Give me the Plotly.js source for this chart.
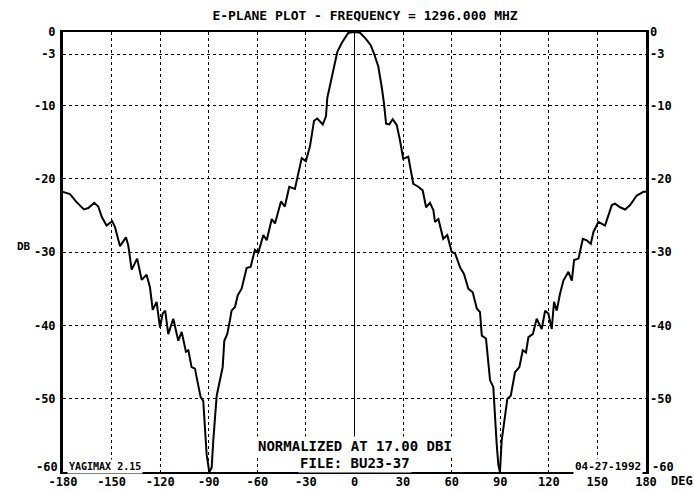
<!DOCTYPE html>
<html>
<head>
<meta charset="utf-8">
<script src="https://cdn.plot.ly/plotly-3.0.1.min.js"></script>
<style>html,body{margin:0;padding:0;background:#fff;}#chart{width:694px;height:491px;}</style>
</head>
<body>
<div id="chart"></div>
<script>
const angleDeg = [
  -180, -175.7, -171.6, -167.1, -164.4, -160.7, -158.2, -156.1, -153.1, -149.6,
  -147.9, -144.8, -141.1, -139.7, -137.6, -134.2, -131.4, -128.4, -126.3, -124.6,
  -122.2, -120.1, -118.5, -116.9, -115.0, -111.9, -108.8, -106.7, -104.1, -102.6,
  -100.6, -98.5, -97.1, -95.0, -93.4, -92.3, -91.3, -89.7, -88.2, -87.2,
  -86.2, -85.1, -83.1, -81.4, -80.4, -78.6, -76.9, -75.9, -73.8, -72.1,
  -69.7, -66.6, -64.1, -61.5, -59.4, -56.3, -54.2, -51.1, -49.1, -45.4,
  -43.0, -40.3, -36.8, -34.7, -32.6, -30.0, -27.5, -25.0, -23.0, -19.6,
  -17.6, -16.8, -14.7, -12.0, -10.6, -7.9, -5.2, -3.8, 0, 3.4,
  6.9, 10.0, 12.0, 14.7, 16.8, 18.2, 19.5, 21.5, 23.6, 26.1,
  28.1, 30.1, 33.2, 36.3, 39.4, 42.1, 44.2, 46.6, 48.7, 49.7,
  51.8, 54.8, 57.3, 60.0, 62.1, 65.2, 67.6, 70.3, 73.0, 75.5,
  77.5, 78.6, 81.2, 83.7, 85.7, 86.8, 87.8, 88.8, 89.8, 90.9,
  93.0, 94.4, 96.5, 99.1, 101.8, 103.9, 105.9, 107.4, 110.1, 112.5,
  115.6, 117.7, 119.7, 121.8, 123.2, 124.9, 126.9, 129.0, 132.1, 134.2,
  135.6, 138.3, 141.0, 143.4, 145.9, 147.5, 150.6, 154.7, 158.9, 160.9,
  164.0, 167.1, 170.2, 174.3, 178.4, 180
];
const gainDb = [
  -21.8, -22.1, -23.2, -24.2, -24.0, -23.3, -23.8, -25.2, -26.4, -25.8,
  -26.6, -29.2, -28.0, -29.1, -32.4, -30.9, -33.8, -33.1, -34.8, -37.9,
  -36.8, -40.3, -38.4, -38.0, -41.2, -39.1, -42.1, -40.9, -43.6, -43.4,
  -45.7, -45.9, -47.5, -49.8, -50.3, -54.4, -57.6, -60.0, -59.4, -55.7,
  -52.1, -49.6, -47.5, -45.7, -42.1, -41.2, -39.3, -38.0, -37.5, -35.9,
  -35.0, -32.2, -32.0, -29.7, -30.1, -27.7, -28.4, -25.5, -26.1, -23.1,
  -23.8, -21.1, -21.4, -19.5, -17.2, -17.6, -15.6, -12.1, -11.8, -12.6,
  -11.5, -9.0, -6.7, -4.0, -2.7, -1.5, -0.6, -0.1, 0, -0.1,
  -0.9, -1.8, -2.9, -4.7, -7.5, -9.7, -12.5, -12.6, -11.9, -12.7,
  -14.8, -17.3, -17.0, -20.7, -21.1, -21.6, -23.9, -23.3, -24.3, -25.9,
  -25.5, -28.2, -27.7, -30.0, -30.2, -32.1, -33.0, -35.0, -35.5, -37.7,
  -38.2, -41.4, -41.8, -47.5, -48.4, -53.0, -56.2, -59.0, -60.0, -55.7,
  -52.1, -50.0, -49.6, -46.4, -45.7, -43.4, -43.7, -41.6, -41.2, -39.1,
  -40.5, -38.0, -38.4, -40.5, -36.8, -38.0, -35.7, -33.9, -32.7, -33.9,
  -31.1, -30.9, -28.2, -28.4, -28.9, -27.3, -25.9, -26.4, -23.6, -23.4,
  -23.9, -24.2, -23.6, -22.3, -21.8, -21.8
];
const xTicks = [-180, -150, -120, -90, -60, -30, 0, 30, 60, 90, 120, 150, 180];
const yTicks = [0, -3, -10, -20, -30, -40, -50, -60];
const yTickText = ['0', '-3', '-10', '-20', '-30', '-40', '-50', '-60'];

const FONT = 'DejaVu Sans Mono, Liberation Mono, monospace';

// the bottom (-60) label sits raised above the x labels, as in the reference
const yAxisText = yTickText.map((t, i) => (yTicks[i] === -60 ? '' : t));
const bottomLabel = yTickText[yTicks.indexOf(-60)];

const traces = [
  {x: angleDeg, y: gainDb, type: 'scatter', mode: 'lines',
   line: {color: '#000', width: 2}, hoverinfo: 'skip', showlegend: false},
  {x: angleDeg, y: gainDb, type: 'scatter', mode: 'lines', yaxis: 'y2',
   line: {color: 'rgba(0,0,0,0)', width: 0}, hoverinfo: 'skip', showlegend: false}
];

const axisFont = {family: FONT, size: 12, color: '#000', weight: 'bold'};

const layout = {
  width: 694, height: 491,
  margin: {l: 63, r: 48, t: 32, b: 19},
  paper_bgcolor: '#fff', plot_bgcolor: '#fff',
  showlegend: false,
  title: {text: 'E-PLANE PLOT - FREQUENCY = 1296.000 MHZ',
          font: {family: FONT, size: 13, color: '#000', weight: 'bold'},
          xref: 'container', x: 365/694, xanchor: 'center',
          yref: 'container', y: 1 - 15/491, yanchor: 'middle'},
  xaxis: {range: [-180, 180], tickvals: xTicks, ticktext: xTicks.map(String),
          showgrid: true, gridcolor: '#000', griddash: 'dot', gridwidth: 1,
          zeroline: true, zerolinecolor: '#000', zerolinewidth: 1.5,
          showline: true, linecolor: '#000', linewidth: 2, mirror: true,
          ticks: '', ticklabelstandoff: -2, tickfont: axisFont, fixedrange: true},
  yaxis: {range: [-60, 0], tickvals: yTicks, ticktext: yAxisText,
          showgrid: true, gridcolor: '#000', griddash: 'dot', gridwidth: 1,
          zeroline: false, showline: true, linecolor: '#000', linewidth: 3, mirror: true,
          ticks: '', ticklabelstandoff: 2, tickfont: axisFont, fixedrange: true},
  yaxis2: {range: [-60, 0], tickvals: yTicks, ticktext: yAxisText,
           overlaying: 'y', side: 'right', showgrid: false, zeroline: false,
           showline: false, ticks: '', ticklabelstandoff: 3, tickfont: axisFont, fixedrange: true},
  annotations: [
    {text: bottomLabel, xref: 'paper', x: 0, xanchor: 'right', xshift: -3, yref: 'y', y: -60, yanchor: 'bottom', yshift: -4,
     showarrow: false, font: axisFont},
    {text: bottomLabel, xref: 'paper', x: 1, xanchor: 'left', xshift: 4, yref: 'y', y: -60, yanchor: 'bottom', yshift: -4,
     showarrow: false, font: axisFont},
    {text: 'DB', xref: 'paper', x: (15-63)/583, yref: 'y', y: -29.2,
     showarrow: false, font: {family: FONT, size: 11, color: '#000', weight: 'bold'}},
    {text: 'DEG', xref: 'paper', x: 1.0, xanchor: 'left', xshift: 23, yref: 'paper', y: 0, yanchor: 'top', yshift: 0,
     showarrow: false, font: axisFont},
    {text: 'NORMALIZED AT 17.00 DBI', xref: 'x', x: 0, yref: 'y', y: -56.4,
     showarrow: false, bgcolor: '#fff', font: {family: FONT, size: 14, color: '#000', weight: 'bold'}},
    {text: 'FILE: BU23-37', xref: 'x', x: 0, yref: 'y', y: -58.8,
     showarrow: false, bgcolor: '#fff', font: {family: FONT, size: 14, color: '#000', weight: 'bold'}},
    {text: 'YAGIMAX 2.15', xref: 'paper', x: 0.007, xanchor: 'left', yref: 'y', y: -59.2,
     showarrow: false, bgcolor: '#fff', font: {family: FONT, size: 10, color: '#000', weight: 'bold'}},
    {text: '04-27-1992', xref: 'paper', x: 0.995, xanchor: 'right', yref: 'y', y: -59.2,
     showarrow: false, bgcolor: '#fff', font: {family: FONT, size: 11, color: '#000', weight: 'bold'}}
  ]
};

Plotly.newPlot('chart', traces, layout, {displayModeBar: false, staticPlot: true});
</script>
</body>
</html>
